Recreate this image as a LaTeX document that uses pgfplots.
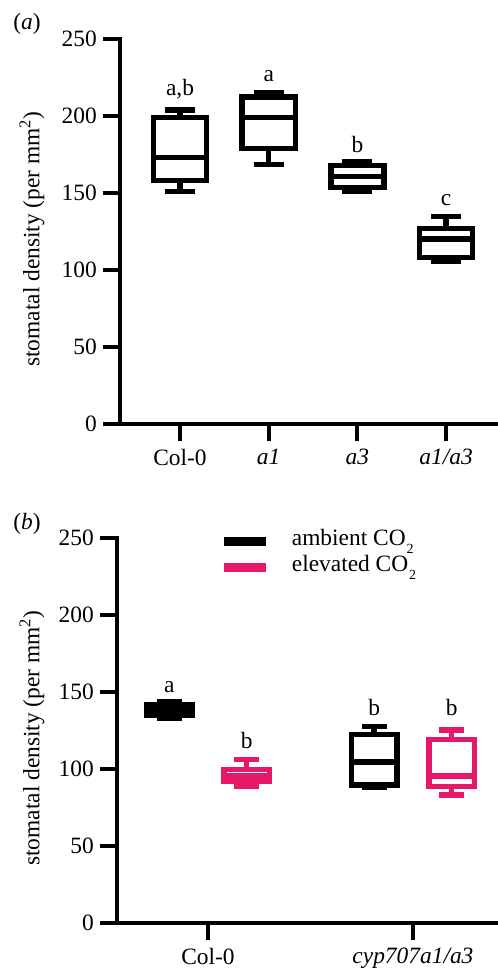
\documentclass[border=0pt]{standalone}
\usepackage{fontspec}
\setmainfont{Liberation Serif}
\usepackage{pgfplots}
\pgfplotsset{compat=1.18}
\usepgfplotslibrary{statistics}
\definecolor{elev}{RGB}{232,24,104}
\newcommand{\cotwo}{CO\kern1bp\raisebox{-8bp}{\fontsize{14}{14}\selectfont 2}}

\pgfplotsset{
  stomata/.style={
    scale only axis,
    height=385bp,
    ymin=0, ymax=250,
    ytick={0,50,100,150,200,250},
    axis x line=bottom, axis y line=left,
    axis line style={-, line width=4bp, line cap=rect},
    tick style={line width=4bp, black},
    major tick length=17bp,
    tick align=outside,
    font=\fontsize{23.5}{28}\selectfont,
    /pgf/number format/assume math mode=true,
    yticklabel style={inner sep=6bp},
    xticklabel style={inner sep=1bp, yshift=-7bp},
    ylabel={stomatal density (per mm\textsuperscript{2})},
    clip=false,
    boxplot/draw direction=y,
  },
  bx/.style={line width=5.5bp, solid, mark=none, forget plot},
}

\begin{document}
\begin{tikzpicture}

% (a)
\node[anchor=base, font=\fontsize{23.5}{28}\selectfont] at (27bp,-29bp) {(\textit{a})};
\begin{axis}[stomata,
  at={(120bp,-424bp)}, anchor=south west,
  width=378bp,
  xmin=0.323, xmax=4.586,
  xtick={1,2,3,4},
  xticklabels={Col-0, \textit{a1}, \textit{a3}, \textit{a1/a3}},
  ylabel style={at={(axis description cs:-0.233,0.48)}, anchor=center, rotate=0},
]
\addplot[bx, black, boxplot prepared={draw position=1, lower whisker=151, lower quartile=158, median=173, upper quartile=199, upper whisker=203.8, box extend=0.60, whisker extend=0.34}] coordinates {};
\addplot[bx, black, boxplot prepared={draw position=2, lower whisker=168.6, lower quartile=179, median=199, upper quartile=212.5, upper whisker=215, box extend=0.60, whisker extend=0.34}] coordinates {};
\addplot[bx, black, boxplot prepared={draw position=3, lower whisker=151, lower quartile=153.5, median=160.6, upper quartile=168, upper whisker=170, box extend=0.60, whisker extend=0.34}] coordinates {};
\addplot[bx, black, boxplot prepared={draw position=4, lower whisker=105.5, lower quartile=108, median=120, upper quartile=127, upper whisker=134.6, box extend=0.60, whisker extend=0.34}] coordinates {};
\node[anchor=base] at (axis cs:1,213.6) {a,b};
\node[anchor=base] at (axis cs:2,222.7) {a};
\node[anchor=base] at (axis cs:3,176) {b};
\node[anchor=base] at (axis cs:4,141.8) {c};
\end{axis}

% (b)
\node[anchor=base, font=\fontsize{23.5}{28}\selectfont] at (27bp,-529bp) {(\textit{b})};
\begin{axis}[stomata,
  at={(117bp,-923bp)}, anchor=south west,
  width=381bp,
  xmin=0.556, xmax=2.415,
  xtick={1,2},
  xticklabels={Col-0, \textit{cyp707a1/a3}},
  ylabel style={at={(axis description cs:-0.223,0.48)}, anchor=center, rotate=0},
  legend style={draw=none, fill=none, inner sep=0pt, outer sep=0pt,
    at={(axis description cs:0.270,1.026)}, anchor=north west,
    legend cell align=left,
    nodes={inner sep=0pt, text height=17bp, text depth=9bp},
    /tikz/every odd column/.append style={column sep=21bp}},
]
\addlegendimage{legend image code/.code={\draw[black, line width=9bp] (0bp,0bp) -- (42bp,0bp);}}
\addlegendentry{ambient \cotwo}
\addlegendimage{legend image code/.code={\draw[elev, line width=9bp] (0bp,0bp) -- (42bp,0bp);}}
\addlegendentry{elevated \cotwo}
\addplot[bx, black, boxplot prepared={draw position=0.811, lower whisker=132.7, lower quartile=135, median=138, upper quartile=141.5, upper whisker=144, box extend=0.222, whisker extend=0.122}] coordinates {};
\addplot[bx, elev, boxplot prepared={draw position=1.189, lower whisker=89, lower quartile=91.8, median=95.5, upper quartile=99.8, upper whisker=106.3, box extend=0.222, whisker extend=0.122}] coordinates {};
\addplot[bx, black, boxplot prepared={draw position=1.811, lower whisker=87.9, lower quartile=89.6, median=104.7, upper quartile=122.5, upper whisker=127.5, box extend=0.222, whisker extend=0.122}] coordinates {};
\addplot[bx, elev, boxplot prepared={draw position=2.189, lower whisker=83, lower quartile=88.5, median=95.5, upper quartile=119.2, upper whisker=125.3, box extend=0.222, whisker extend=0.122}] coordinates {};
\node[anchor=base] at (axis cs:0.811,150) {a};
\node[anchor=base] at (axis cs:1.189,113.4) {b};
\node[anchor=base] at (axis cs:1.811,135) {b};
\node[anchor=base] at (axis cs:2.189,135) {b};
\end{axis}
\pgfresetboundingbox
\useasboundingbox (0,0) rectangle (498bp,-970bp);
\end{tikzpicture}
\end{document}
